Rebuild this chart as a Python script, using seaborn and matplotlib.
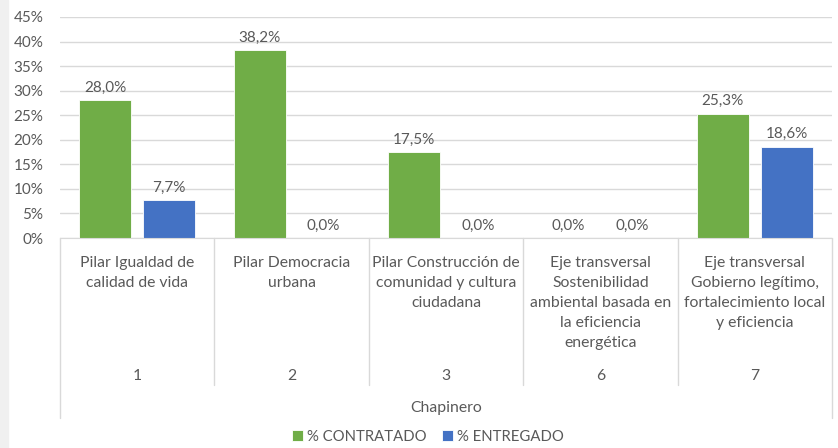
import matplotlib
matplotlib.use("Agg")
import matplotlib.pyplot as plt
import matplotlib.transforms as mtransforms
from matplotlib.patches import Rectangle
from matplotlib.ticker import FuncFormatter, MultipleLocator
import seaborn as sns
import pandas as pd

# datos
codigos = ["1", "2", "3", "6", "7"]
pilares = [
    "Pilar Igualdad de\ncalidad de vida",
    "Pilar Democracia\nurbana",
    "Pilar Construcción de\ncomunidad y cultura\nciudadana",
    "Eje transversal\nSostenibilidad\nambiental basada en\nla eficiencia\nenergética",
    "Eje transversal\nGobierno legítimo,\nfortalecimiento local\ny eficiencia",
]
localidad = "Chapinero"
contratado = [0.280, 0.382, 0.175, 0.0, 0.253]
entregado = [0.077, 0.0, 0.0, 0.0, 0.186]
series = ["% CONTRATADO", "% ENTREGADO"]

df = pd.DataFrame({
    "pilar": pilares * 2,
    "serie": [series[0]] * len(pilares) + [series[1]] * len(pilares),
    "valor": contratado + entregado,
})

sns.set_style("white")
plt.rcParams["font.family"] = ["Lato", "DejaVu Sans"]
gris = "#595959"

fig = plt.figure(figsize=(8.38, 4.48), dpi=100)
W, H = 838, 448
ax = fig.add_axes([60 / W, (H - 238) / H, 772 / W, 221 / H])

sns.barplot(data=df, x="pilar", y="valor", hue="serie", order=pilares,
            palette=["#70AD47", "#4472C4"], saturation=1, width=0.828, gap=0.186,
            edgecolor="#ffffff", linewidth=0.6, ax=ax)

ax.set_ylim(0, 0.45)
ax.set_xlim(-0.5, len(pilares) - 0.5)
ax.yaxis.set_major_locator(MultipleLocator(0.05))
ax.yaxis.set_major_formatter(FuncFormatter(lambda v, p: f"{v * 100:.0f}%"))
ax.grid(axis="y", color="#d9d9d9", linewidth=1)
ax.set_axisbelow(True)
for s in ["top", "right", "left"]:
    ax.spines[s].set_visible(False)
ax.spines["bottom"].set_color("#d9d9d9")
ax.tick_params(axis="y", length=0, pad=12, labelsize=11, labelcolor=gris)
ax.tick_params(axis="x", length=0, pad=13, labelsize=11.3, labelcolor=gris)
ax.set_xticks(range(len(pilares)))
ax.set_xticklabels(pilares, linespacing=1.55, va="top")
ax.set_xlabel("")
ax.set_ylabel("")

for cont in ax.containers:
    ax.bar_label(cont, labels=[f"{b.get_height() * 100:.1f}%".replace(".", ",") for b in cont],
                 padding=4, fontsize=11, color=gris)

# ejes de categorias multinivel
tr = mtransforms.blended_transform_factory(ax.transData, ax.transAxes)
for i in range(len(pilares) + 1):
    x = i - 0.5
    fondo = -0.814 if i in (0, len(pilares)) else -0.665
    ax.plot([x, x], [0, fondo], color="#d9d9d9", lw=1, transform=tr, clip_on=False)
for i, c in enumerate(codigos):
    ax.text(i, -0.624, c, transform=tr, ha="center", va="center", fontsize=11.3, color=gris)
ax.text(0.5, -0.77, localidad, transform=ax.transAxes, ha="center", va="center",
        fontsize=11.3, color=gris)

ax.legend(loc="center", bbox_to_anchor=(428 / W, 1 - 437 / H), bbox_transform=fig.transFigure,
          ncol=2, frameon=False, handlelength=0.75, handleheight=0.75, handletextpad=0.3,
          columnspacing=1.0, fontsize=10.7, labelcolor=gris)

fig.patches.append(Rectangle((0, 0), 8 / W, 1, transform=fig.transFigure,
                             color="#f0f0f0", zorder=-1))

fig.savefig("out.png", dpi=100)
